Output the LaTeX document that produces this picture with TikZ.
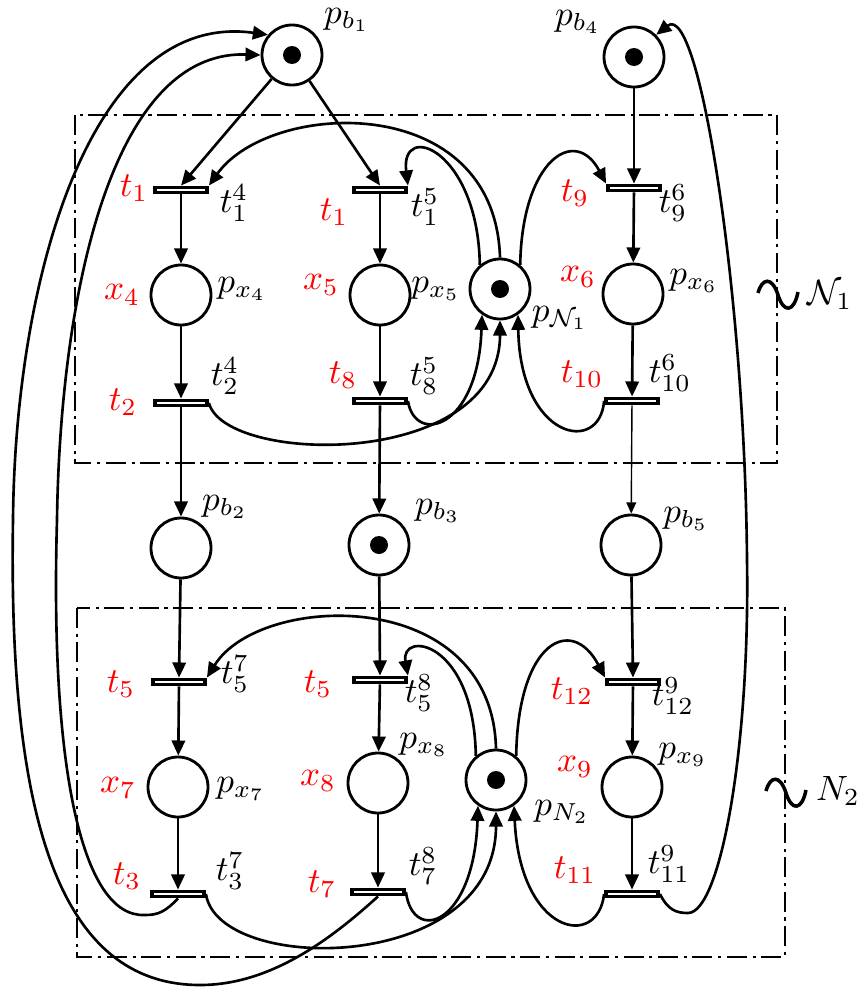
\documentclass[tikz,border=0pt]{standalone}
\usepackage{amsmath,amssymb}
\usepackage{tikz}
\usetikzlibrary{arrows.meta}

\begin{document}
\begin{tikzpicture}[
    x=1cm, y=-1cm,
    place/.style={circle, draw, line width=0.8pt, minimum size=0.6cm, inner sep=0pt},
    marked/.style={place, path picture={\fill (path picture bounding box.center) circle (0.9mm);}},
    trans/.style={rectangle, draw, line width=1.1pt, fill=white,
        minimum width=0.52cm, minimum height=0.05cm, inner sep=0pt},
    lbl/.style={inner sep=0pt},
    rlbl/.style={lbl, text=red},
    flow/.style={->, line width=0.75pt},
    netbox/.style={line width=0.8pt, dash pattern=on 5.7pt off 1.6pt on 0.9pt off 1.6pt},
    >={Triangle[length=4.3pt, width=3.8pt]}
]
\useasboundingbox (0,0) rectangle (8.59,9.90);

% subnet frames
\draw[netbox] (0.75,1.15) rectangle (7.77,4.63);
\draw[netbox] (0.77,6.08) rectangle (7.85,9.57);
\draw[line width=1pt] (7.58,2.93) .. controls (7.62,2.78) and (7.72,2.76) .. (7.78,2.95)
    .. controls (7.84,3.14) and (7.94,3.12) .. (7.98,2.92);
\draw[line width=1pt] (7.66,7.91) .. controls (7.70,7.76) and (7.80,7.74) .. (7.86,7.93)
    .. controls (7.92,8.12) and (8.02,8.10) .. (8.06,7.90);
\node[lbl] (nN1) at (8.30,2.95) {$\mathcal{N}_1$};
\node[lbl] (nN2) at (8.38,7.91) {$N_2$};

% places
\node[marked] (pb1) at (2.92,0.55) {};
\node[marked] (pb4) at (6.34,0.57) {};
\node[place] (px4) at (1.81,2.95) {};
\node[place] (px5) at (3.80,2.95) {};
\node[marked] (pN1) at (5.00,2.89) {};
\node[place] (px6) at (6.33,2.94) {};
\node[place] (pb2) at (1.81,5.48) {};
\node[marked] (pb3) at (3.79,5.45) {};
\node[place] (pb5) at (6.31,5.45) {};
\node[place] (px7) at (1.78,7.87) {};
\node[place] (px8) at (3.78,7.83) {};
\node[marked] (pN2) at (4.96,7.80) {};
\node[place] (px9) at (6.32,7.87) {};

% transitions
\node[trans] (t14) at (1.81,1.90) {};
\node[trans] (t15) at (3.80,1.90) {};
\node[trans] (t96) at (6.34,1.88) {};
\node[trans] (t24) at (1.81,4.03) {};
\node[trans] (t85) at (3.80,4.01) {};
\node[trans] (t106) at (6.32,4.01) {};
\node[trans] (t57) at (1.79,6.82) {};
\node[trans] (t58) at (3.80,6.80) {};
\node[trans] (t129) at (6.33,6.82) {};
\node[trans] (t37) at (1.78,8.94) {};
\node[trans] (t78) at (3.78,8.92) {};
\node[trans] (t119) at (6.32,8.94) {};

% labels
\node[lbl] (lpb1) at (3.47,0.20) {$p_{b_1}$};
\node[lbl] (lpb4) at (5.78,0.22) {$p_{b_4}$};
\node[rlbl] (rt14) at (1.34,1.88) {$t_1$};
\node[lbl] (lt14) at (2.34,2.03) {$t_1^4$};
\node[rlbl] (rt15) at (3.34,2.12) {$t_1$};
\node[lbl] (lt15) at (4.25,2.07) {$t_1^5$};
\node[rlbl] (rt96) at (5.75,1.93) {$t_9$};
\node[lbl] (lt96) at (6.73,2.03) {$t_9^6$};
\node[rlbl] (rx4) at (1.22,2.95) {$x_4$};
\node[lbl] (lpx4) at (2.42,2.89) {$p_{x_4}$};
\node[rlbl] (rx5) at (3.21,2.85) {$x_5$};
\node[lbl] (lpx5) at (4.36,2.89) {$p_{x_5}$};
\node[lbl] (lpN1) at (5.60,3.18) {$p_{\mathcal{N}_1}$};
\node[rlbl] (rx6) at (5.78,2.77) {$x_6$};
\node[lbl] (lpx6) at (6.94,2.81) {$p_{x_6}$};
\node[rlbl] (rt24) at (1.23,4.02) {$t_2$};
\node[lbl] (lt24) at (2.25,3.76) {$t_2^4$};
\node[rlbl] (rt85) at (3.43,3.75) {$t_8$};
\node[lbl] (lt85) at (4.24,3.76) {$t_8^5$};
\node[rlbl] (rt106) at (5.82,3.74) {$t_{10}$};
\node[lbl] (lt106) at (6.70,3.73) {$t_{10}^6$};
\node[lbl] (lpb2) at (2.25,5.07) {$p_{b_2}$};
\node[lbl] (lpb3) at (4.38,5.11) {$p_{b_3}$};
\node[lbl] (lpb5) at (6.86,5.19) {$p_{b_5}$};
\node[rlbl] (rt57) at (1.21,6.84) {$t_5$};
\node[lbl] (lt57) at (2.35,6.74) {$t_5^7$};
\node[rlbl] (rt58) at (3.18,6.84) {$t_5$};
\node[lbl] (lt58) at (4.19,6.93) {$t_5^8$};
\node[rlbl] (rt129) at (5.72,6.91) {$t_{12}$};
\node[lbl] (lt129) at (6.73,6.96) {$t_{12}^9$};
\node[rlbl] (rx7) at (1.18,7.88) {$x_7$};
\node[lbl] (lpx7) at (2.41,7.89) {$p_{x_7}$};
\node[rlbl] (rx8) at (3.18,7.81) {$x_8$};
\node[lbl] (lpx8) at (4.24,7.45) {$p_{x_8}$};
\node[rlbl] (rx9) at (5.75,7.67) {$x_9$};
\node[lbl] (lpx9) at (6.83,7.55) {$p_{x_9}$};
\node[lbl] (lpN2) at (5.62,8.12) {$p_{N_2}$};
\node[rlbl] (rt37) at (1.27,8.76) {$t_3$};
\node[lbl] (lt37) at (2.30,8.71) {$t_3^7$};
\node[rlbl] (rt78) at (3.22,8.84) {$t_7$};
\node[lbl] (lt78) at (4.23,8.66) {$t_7^8$};
\node[rlbl] (rt119) at (5.75,8.70) {$t_{11}$};
\node[lbl] (lt119) at (6.69,8.64) {$t_{11}^9$};

% arcs of N1
\draw[flow] (pb1) -- (t14.north);
\draw[flow] (pb1) -- (t15.north);
\draw[flow] (pb4) -- (t96.north);
\draw[flow] (t14) -- (px4);
\draw[flow] (t15) -- (px5);
\draw[flow] (t96) -- (px6);
\draw[flow] (px4) -- (t24);
\draw[flow] (px5) -- (t85);
\draw[flow] (px6) -- (t106);
\draw[flow] (pN1.north) .. controls (4.95,0.90) and (2.70,1.00) .. (t14.north east);
\draw[flow] (pN1.130) .. controls (4.78,1.50) and (4.00,1.20) .. (t15.north east);
\draw[flow] (pN1.50) .. controls (5.22,1.60) and (5.75,1.25) .. (t96.north west);
\draw[flow] (t24.east) .. controls (2.25,4.65) and (5.00,4.70) .. (pN1.south);
\draw[flow] (t85.east) .. controls (4.15,4.45) and (4.78,4.30) .. (pN1.235);
\draw[flow] (t106.west) .. controls (6.00,4.55) and (5.20,4.40) .. (pN1.305);

% buffers between the nets
\draw[flow] (t24) -- (pb2);
\draw[flow] (t85) -- (pb3);
\draw[->, line width=0.4pt, >={Triangle[length=3.2pt, width=2.8pt]}] (t106) -- (pb5);
\draw[flow] (pb2) -- (t57.north);
\draw[flow] (pb3) -- (t58.north);
\draw[flow] (pb5) -- (t129.north);

% arcs of N2
\draw[flow] (t57) -- (px7);
\draw[flow] (t58) -- (px8);
\draw[flow] (t129) -- (px9);
\draw[flow] (px7) -- (t37);
\draw[flow] (px8) -- (t78);
\draw[flow] (px9) -- (t119);
\draw[flow] (pN2.north) .. controls (4.92,5.85) and (2.60,5.92) .. (t57.north east);
\draw[flow] (pN2.130) .. controls (4.74,6.40) and (4.00,6.30) .. (t58.north east);
\draw[flow] (pN2.50) .. controls (5.18,6.40) and (5.72,6.15) .. (t129.north west);
\draw[flow] (t37.east) .. controls (2.18,9.75) and (4.96,9.75) .. (pN2.south);
\draw[flow] (t78.east) .. controls (4.13,9.45) and (4.74,9.25) .. (pN2.235);
\draw[flow] (t119.west) .. controls (5.98,9.50) and (5.20,9.35) .. (pN2.305);

% long returns to the buffers
\draw[flow] (t37.south) .. controls (1.65,9.12) and (1.58,9.15) .. (1.45,9.15)
    .. controls (0.80,9.18) and (0.50,7.60) .. (0.57,5.20)
    .. controls (0.60,3.00) and (1.10,0.50) .. (pb1.west);
\draw[flow] (t78.south) .. controls (3.30,9.40) and (2.70,9.85) .. (2.00,9.85)
    .. controls (0.60,9.85) and (0.08,8.20) .. (0.13,5.20)
    .. controls (0.15,2.80) and (0.90,0.10) .. (pb1.140);
\draw[flow] (t119.east) .. controls (6.68,9.10) and (6.76,9.13) .. (6.88,9.13)
    .. controls (7.20,9.13) and (7.50,7.50) .. (7.47,5.60)
    .. controls (7.45,3.00) and (7.00,0.00) .. (pb4.45);
\end{tikzpicture}
\end{document}
